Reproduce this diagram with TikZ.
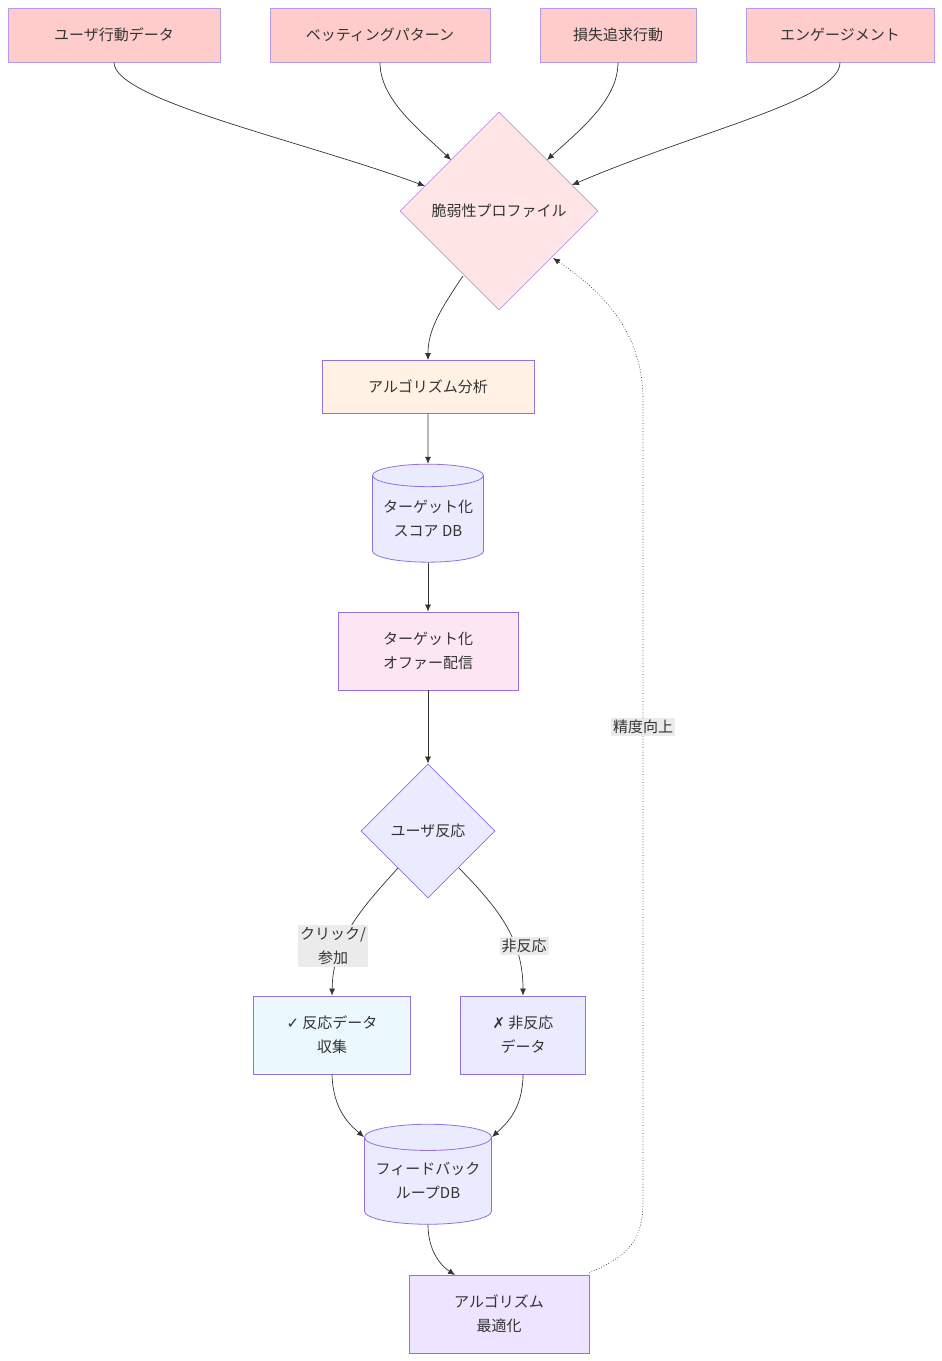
\documentclass[tikz,border=0pt]{standalone}
\usepackage{fontspec}
\setmainfont{Noto Sans CJK JP}
\newfontfamily\sym{DejaVu Sans}
\usetikzlibrary{shapes.geometric,arrows.meta}
\definecolor{bd}{HTML}{9370DB}
\definecolor{optc}{HTML}{EEE4FF}
\begin{document}
\begin{tikzpicture}[x=1pt,y=-1pt,
  every node/.style={font=\fontsize{15}{24}\selectfont,text=black!80,align=center,draw=bd,line width=0.8pt,inner sep=0pt},
  box/.style={rectangle},
  dia/.style={diamond,aspect=1},
  cyl/.style={cylinder,shape border rotate=90,aspect=0.25},
  lab/.style={draw=none,fill=black!8,inner sep=2pt},
  e/.style={draw=black!80,line width=0.7pt,-{Latex[length=7pt,width=6pt]}}]
\useasboundingbox (0,0) rectangle (942,1361);
\node[box,fill=red!20,draw=bd!70,minimum width=212,minimum height=54] (a) at (114,35) {ユーザ行動データ};
\node[box,fill=red!20,draw=bd!70,minimum width=220,minimum height=54] (b) at (380,35) {ベッティングパターン};
\node[box,fill=red!20,draw=bd!70,minimum width=156,minimum height=54] (c) at (618,35) {損失追求行動};
\node[box,fill=red!20,draw=bd!70,minimum width=188,minimum height=54] (d) at (840,35) {エンゲージメント};
\node[dia,fill=red!10,draw=bd!70,minimum width=198,minimum height=198] (p) at (499,211) {脆弱性プロファイル};
\node[box,fill=orange!10,minimum width=212,minimum height=53] (al) at (428,387) {アルゴリズム分析};
\node[cyl,fill=blue!8,minimum width=111,minimum height=98] (s) at (428,519) {ターゲット化\\スコア DB};
\node[box,fill=magenta!10,minimum width=180,minimum height=78] (o) at (428,651) {ターゲット化\\オファー配信};
\node[dia,fill=blue!8,minimum width=134,minimum height=134] (r) at (428,831) {ユーザ反応};
\node[box,fill=cyan!8,minimum width=157,minimum height=78] (y) at (332,1035) {{\sym ✓} 反応データ\\収集};
\node[box,fill=blue!8,minimum width=125,minimum height=78] (n) at (523,1035) {{\sym ✗} 非反応\\データ};
\node[cyl,fill=blue!8,minimum width=127,minimum height=100] (f) at (428,1181) {フィードバック\\ループDB};
\node[box,fill=optc,minimum width=180,minimum height=78] (opt) at (499,1314) {アルゴリズム\\最適化};
\draw[e] (a.south) .. controls (114,100) and (300,140) .. (425,186);
\draw[e] (b.south) .. controls (380,100) and (420,130) .. (451,160);
\draw[e] (c.south) .. controls (618,100) and (580,130) .. (547,160);
\draw[e] (d.south) .. controls (840,100) and (700,130) .. (572,185);
\draw[e] (463,276) .. controls (440,310) and (428,330) .. (al.north);
\draw[e] (al) -- (s);
\draw[e] (s) -- (o);
\draw[e] (o) -- (r);
\draw[e] (398,868) .. controls (360,910) and (333,940) .. (y.north);
\draw[e] (459,868) .. controls (500,910) and (523,940) .. (n.north);
\draw[e] (y.south) .. controls (333,1110) and (350,1125) .. (364,1137);
\draw[e] (n.south) .. controls (523,1110) and (505,1125) .. (492,1137);
\draw[e] (f.south) .. controls (428,1250) and (440,1265) .. (455,1275);
\draw[e,dotted] (589,1273) .. controls (630,1255) and (643,1240) .. (643,1200) -- (643,400) .. controls (643,330) and (600,290) .. (553,258);
\node[lab] at (333,946) {クリック/\\参加};
\node[lab] at (524,946) {非反応};
\node[lab] at (643,727) {精度向上};
\end{tikzpicture}
\end{document}
